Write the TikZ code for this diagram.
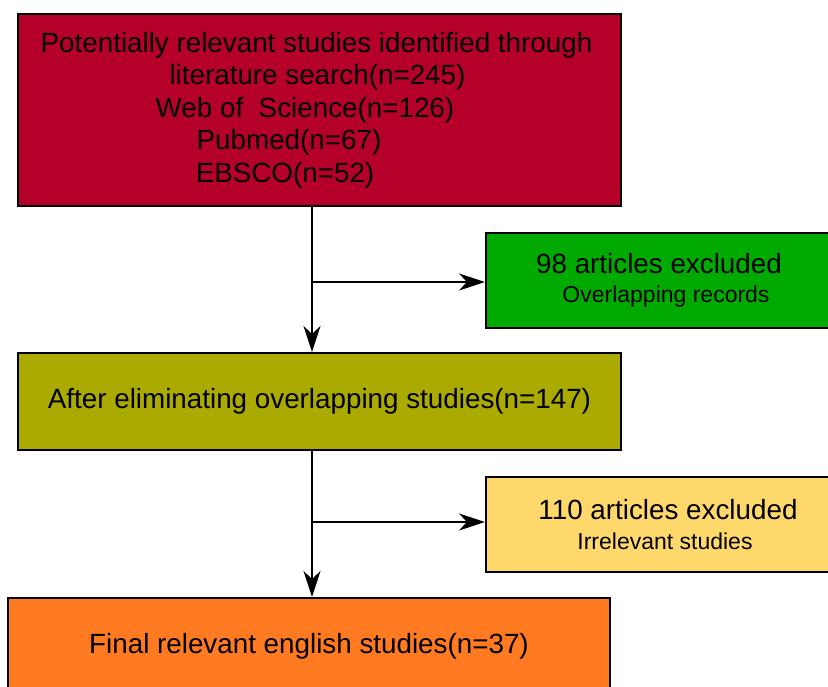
\documentclass[tikz,border=0pt]{standalone}
\usepackage{fontspec}
\setmainfont{Liberation Sans}
\usepackage{tikz}
\usetikzlibrary{arrows.meta}

\definecolor{boxred}{HTML}{B5002A}
\definecolor{boxgreen}{HTML}{00AA00}
\definecolor{boxolive}{HTML}{AAAA00}
\definecolor{boxyellow}{HTML}{FFD86B}
\definecolor{boxorange}{HTML}{FF7A20}

\newcommand{\bigtxt}{\fontsize{27.8}{32.5}\selectfont}
\newcommand{\smalltxt}{\fontsize{23}{29}\selectfont}
% empty box of given width after a line, pulls a centred line to the left
\newcommand{\padr}[1]{\hbox to #1{}}

\begin{document}
\begin{tikzpicture}[x=1pt, y=-1pt]
        \tikzstyle{box}=[draw, line width=2pt, rectangle, inner sep=0pt, align=center, font=\bigtxt]
        \tikzstyle{sidebox}=[box, anchor=west, minimum width=380pt, minimum height=95pt]
        \tikzstyle{line}=[line width=2.3pt, -{Stealth[length=26pt, width=17pt, inset=8pt]}]

        \useasboundingbox (0,0) rectangle (828,686);

        \node (search) [box, fill=boxred, minimum width=603pt, minimum height=192pt] at (319.5,110)
            {Potentially relevant studies identified through\padr{6pt}\\
             literature search(n=245)\padr{4pt}\\
             Web of~ Science(n=126)\padr{29pt}\\
             Pubmed(n=67)\padr{61pt}\\
             EBSCO(n=52)\padr{69pt}};
        \node (overlap) [sidebox, fill=boxgreen] at (485,280.5)
            {98 articles excluded\padr{34pt}\\[-3pt]
             {\smalltxt Overlapping records\padr{20pt}}};
        \node (eliminate) [box, fill=boxolive, minimum width=603pt, minimum height=97pt] at (319.5,401.5)
            {After eliminating overlapping studies(n=147)};
        \node (irrelevant) [sidebox, fill=boxyellow] at (485,524.5)
            {110 articles excluded\padr{16pt}\\[-3pt]
             {\smalltxt Irrelevant studies\padr{22pt}}};
        \node (final) [box, fill=boxorange, minimum width=602pt, minimum height=96pt] at (309,646)
            {Final relevant english studies(n=37)};

        % branch points on the main line
        \coordinate (b1) at (312,282);
        \coordinate (b2) at (312,522);

        \draw[line] (b1 |- search.south) -- (b1 |- eliminate.north);
        \draw[line] (b1) -- (b1 -| overlap.west);
        \draw[line] (b2 |- eliminate.south) -- (b2 |- final.north);
        \draw[line] (b2) -- (b2 -| irrelevant.west);

    \end{tikzpicture}
\end{document}
